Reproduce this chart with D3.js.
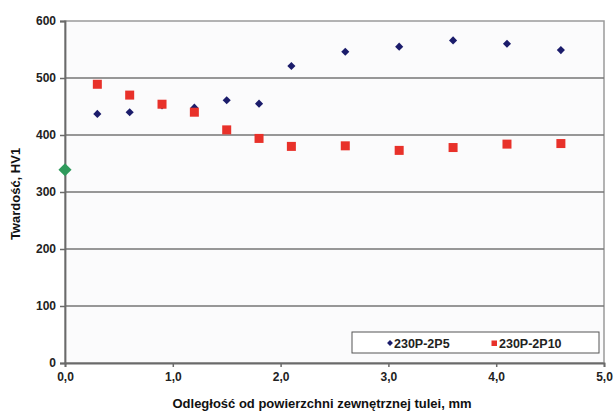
<!DOCTYPE html>
<html>
<head>
<meta charset="utf-8">
<script src="https://cdn.jsdelivr.net/npm/d3@7"></script>
<style>
  body { margin: 0; background: #fff; }
  text { font-family: Arial, "Liberation Sans", sans-serif; }
</style>
</head>
<body>
<svg id="chart" width="616" height="414"></svg>
<script>
// data
var distances = [0.3, 0.6, 0.9, 1.2, 1.5, 1.8, 2.1, 2.6, 3.1, 3.6, 4.1, 4.6];
var hv2P5  = [437, 440, 452, 448, 461, 455, 521, 546, 555, 566, 560, 549];
var hv2P10 = [489, 470, 454, 440, 409, 394, 380, 381, 373, 378, 384, 385];
var coreX = [0.0];
var coreHV = [339];
var seriesNames = ["230P-2P5", "230P-2P10"];
var xTicks = [0, 1, 2, 3, 4, 5];
var yTicks = [0, 100, 200, 300, 400, 500, 600];

var svg = d3.select("#chart");
// plot box (window.top is taken, so no "top" here)
var plotL = 65, plotR = 604, plotT = 21, plotB = 363;

var x = d3.scaleLinear().domain([0, 5]).range([plotL, plotR]);
var y = d3.scaleLinear().domain([0, 600]).range([plotB, plotT]);

// plot area
svg.append("rect")
    .attr("x", plotL).attr("y", plotT)
    .attr("width", plotR - plotL).attr("height", plotB - plotT)
    .attr("fill", "#fbfbfc")
    .attr("stroke", "#9a9a9a").attr("stroke-width", 1.5);

// gridlines
svg.selectAll(".grid").data(yTicks.filter(function(d) { return d > 0 && d < 600; }))
  .enter().append("line")
    .attr("x1", plotL).attr("x2", plotR)
    .attr("y1", function(d) { return y(d); })
    .attr("y2", function(d) { return y(d); })
    .attr("stroke", "#767676").attr("stroke-width", 1.6);

// axes
var yAxis = svg.append("g")
    .attr("transform", "translate(" + plotL + ",0)")
    .call(d3.axisLeft(y).tickValues(yTicks).tickSize(5).tickPadding(4)
        .tickFormat(d3.format("d")));
var xAxis = svg.append("g")
    .attr("transform", "translate(0," + plotB + ")")
    .call(d3.axisBottom(x).tickValues(xTicks).tickSize(4).tickPadding(5)
        .tickFormat(function(d) { return d.toFixed(1).replace(".", ","); }));

[yAxis, xAxis].forEach(function(a) {
    a.select(".domain").attr("stroke", "#6a6a6a").attr("stroke-width", 1.8);
    a.selectAll(".tick line").attr("stroke", "#6a6a6a").attr("stroke-width", 1.5);
    a.selectAll(".tick text")
        .attr("font-size", 12).attr("font-weight", "bold").attr("fill", "#222");
});

// axis titles
svg.append("text")
    .attr("x", 322).attr("y", 408)
    .attr("text-anchor", "middle")
    .attr("font-size", 13).attr("font-weight", "bold").attr("fill", "#111")
    .text("Odległość od powierzchni zewnętrznej tulei, mm");

svg.append("text")
    .attr("transform", "translate(20,194) rotate(-90)")
    .attr("text-anchor", "middle")
    .attr("font-size", 13).attr("font-weight", "bold").attr("fill", "#111")
    .text("Twardość, HV1");

// markers
var diamond = d3.symbol().type(d3.symbolDiamond2).size(42);
var bigDiamond = d3.symbol().type(d3.symbolDiamond2).size(110);

svg.selectAll(".p2p5").data(distances)
  .enter().append("path")
    .attr("d", diamond)
    .attr("transform", function(d, i) { return "translate(" + x(d) + "," + y(hv2P5[i]) + ")"; })
    .attr("fill", "#1b1c6b");

svg.selectAll(".p2p10").data(distances)
  .enter().append("rect")
    .attr("x", function(d) { return x(d) - 4.5; })
    .attr("y", function(d, i) { return y(hv2P10[i]) - 4.5; })
    .attr("width", 9).attr("height", 9)
    .attr("fill", "#e8312a");

svg.selectAll(".core").data(coreX)
  .enter().append("path")
    .attr("d", bigDiamond)
    .attr("transform", function(d, i) { return "translate(" + x(d) + "," + y(coreHV[i]) + ")"; })
    .attr("fill", "#2f9a5c");

// legend
var lg = svg.append("g");
lg.append("rect")
    .attr("x", 352).attr("y", 332).attr("width", 247).attr("height", 21)
    .attr("fill", "#fff").attr("stroke", "#555").attr("stroke-width", 1);
lg.append("path")
    .attr("d", d3.symbol().type(d3.symbolDiamond2).size(22))
    .attr("transform", "translate(390,343)")
    .attr("fill", "#1b1c6b");
lg.append("text")
    .attr("x", 394).attr("y", 347.5)
    .attr("font-size", 12.5).attr("font-weight", "bold").attr("fill", "#222")
    .text(seriesNames[0]);
lg.append("rect")
    .attr("x", 491.5).attr("y", 340.5).attr("width", 5.5).attr("height", 5.5)
    .attr("fill", "#e8312a");
lg.append("text")
    .attr("x", 499).attr("y", 347.5)
    .attr("font-size", 12.5).attr("font-weight", "bold").attr("fill", "#222")
    .text(seriesNames[1]);
</script>
</body>
</html>
